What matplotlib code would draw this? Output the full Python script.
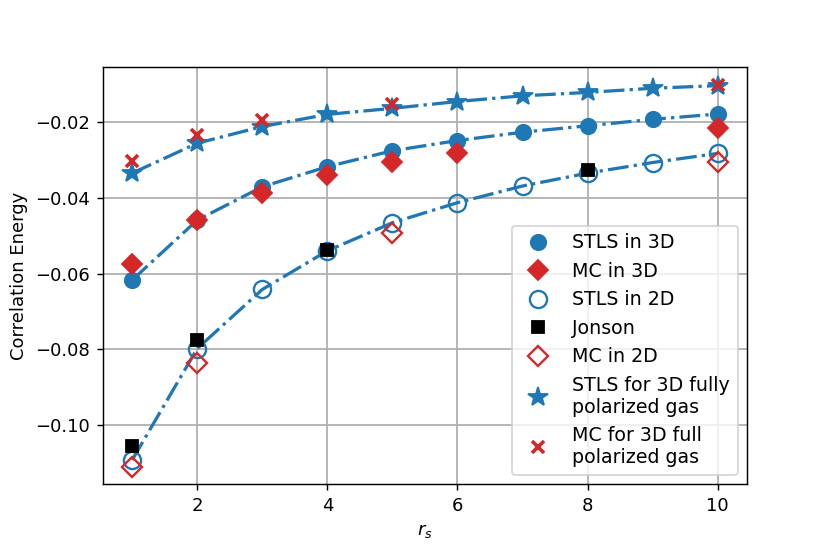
import numpy as np
import matplotlib.pyplot as plt

rs = [1, 2, 3, 4, 5, 6, 7, 8, 9, 10]

stls_3d = [-0.0617, -0.0459, -0.0371, -0.0318, -0.0276, -0.0249, -0.0227, -0.0210, -0.0193, -0.0179]
stls_2d = [-0.1092, -0.0798, -0.0642, -0.0540, -0.0466, -0.0413, -0.0369, -0.0335, -0.0307, -0.0283]
stls_pol = [-0.0335, -0.0256, -0.0212, -0.0180, -0.0164, -0.0146, -0.0131, -0.0122, -0.0111, -0.0104]

mc_3d_rs = [1, 2, 3, 4, 5, 6, 10]
mc_3d = [-0.0575, -0.0459, -0.0388, -0.0340, -0.0305, -0.0283, -0.0217]

jonson_rs = [1, 2, 4, 8]
jonson = [-0.1055, -0.0776, -0.0538, -0.0327]

mc_2d_rs = [1, 2, 5, 10]
mc_2d = [-0.1110, -0.0835, -0.0494, -0.0305]

mc_pol_rs = [1, 2, 3, 5, 10]
mc_pol = [-0.0303, -0.0234, -0.0195, -0.0152, -0.0102]

blue = 'tab:blue'
red = 'tab:red'

fig, ax = plt.subplots(figsize=(830 / 130, 554 / 130), dpi=130)
fig.subplots_adjust(left=0.124, right=0.9, top=0.879, bottom=0.126)

# dash-dot guide lines through the STLS results
for series in (stls_3d, stls_2d, stls_pol):
    ax.plot(rs, series, '-.', color=blue, lw=1.8, zorder=2)

ax.plot(rs, stls_3d, 'o', color=blue, ms=8.5, ls='none', label='STLS in 3D', zorder=3)
ax.plot(mc_3d_rs, mc_3d, 'D', color=red, ms=7.5, ls='none', label='MC in 3D', zorder=3)
ax.plot(rs, stls_2d, 'o', mfc='none', mec=blue, mew=1.3, ms=9.5, ls='none',
        label='STLS in 2D', zorder=3)
ax.plot(jonson_rs, jonson, 's', color='black', ms=7, ls='none', label='Jonson', zorder=3)
ax.plot(mc_2d_rs, mc_2d, 'D', mfc='none', mec=red, mew=1.3, ms=7.5, ls='none',
        label='MC in 2D', zorder=3)
ax.plot(rs, stls_pol, '*', color=blue, ms=11.5, ls='none',
        label='STLS for 3D fully\npolarized gas', zorder=3)
ax.plot(mc_pol_rs, mc_pol, 'x', color=red, ms=7, mew=2, ls='none',
        label='MC for 3D full\npolarized gas', zorder=3)

ax.set_xlabel('$r_s$')
ax.set_ylabel('Correlation Energy')
ax.set_xticks([2, 4, 6, 8, 10])
ax.set_yticks([-0.10, -0.08, -0.06, -0.04, -0.02])
ax.set_ylim(-0.1156, -0.0055)
ax.grid(True, lw=1.0)
ax.legend(loc='lower right', fontsize=10.5)

fig.savefig('out.png', dpi=130)
